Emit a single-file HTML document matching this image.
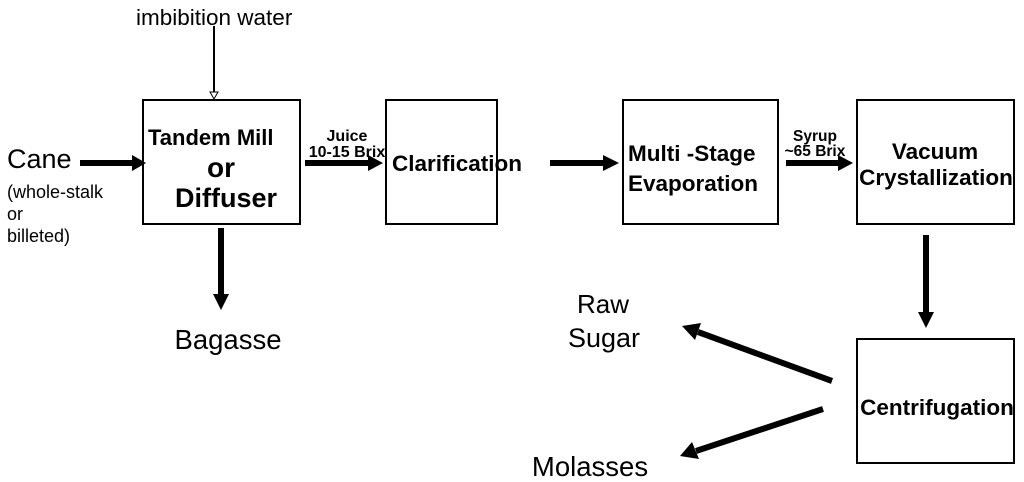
<!DOCTYPE html>
<html><head><style>body{margin:0;background:#fff}svg{display:block}text{font-family:"Liberation Sans",Arial,sans-serif}</style></head><body>
<svg width="1024" height="482" viewBox="0 0 1024 482" xmlns="http://www.w3.org/2000/svg">
<g fill="none" stroke="#000" stroke-width="2">
<rect x="143" y="100" width="157" height="124"/>
<rect x="386" y="100" width="111" height="124"/>
<rect x="623" y="100" width="155" height="124"/>
<rect x="857" y="100" width="157" height="124"/>
<rect x="857" y="339" width="157" height="124"/>
</g>
<line x1="214" y1="26" x2="214" y2="92" stroke="#000" stroke-width="2"/>
<polygon points="210,92 218,92 214,99" fill="#fff" stroke="#000" stroke-width="1"/>
<g stroke="#000" stroke-width="6">
<line x1="80" y1="163" x2="134" y2="163"/>
<line x1="305" y1="163" x2="370" y2="163"/>
<line x1="550" y1="163" x2="605" y2="163"/>
<line x1="786" y1="163" x2="840" y2="163"/>
<line x1="221" y1="228" x2="221" y2="296"/>
<line x1="926" y1="235" x2="926" y2="314"/>
<line x1="832" y1="381" x2="698" y2="332"/>
<line x1="823" y1="409" x2="696" y2="451"/>
</g>
<g fill="#000">
<polygon points="132,155 146,163 132,171"/>
<polygon points="368,155 383,163 368,171"/>
<polygon points="603,155 619,163 603,171"/>
<polygon points="838,155 853,163 838,171"/>
<polygon points="213,294 229,294 221,310"/>
<polygon points="918,312 934,312 926,328"/>
<polygon points="701,323 682,326 695,340"/>
<polygon points="692,442 680,456 699,459"/>
</g>
<text x="136" y="25" font-size="22.5">imbibition water</text>
<text x="7" y="168" font-size="27">Cane</text>
<text x="7" y="198" font-size="18">(whole-stalk</text>
<text x="7" y="220" font-size="18">or</text>
<text x="7" y="242" font-size="18">billeted)</text>
<g font-weight="bold">
<text x="148" y="145" font-size="22">Tandem Mill</text>
<text x="221" y="177" font-size="28" text-anchor="middle">or</text>
<text x="175" y="207" font-size="27">Diffuser</text>
<text x="347" y="141" font-size="16" text-anchor="middle">Juice</text>
<text x="347" y="157" font-size="16" text-anchor="middle">10-15 Brix</text>
<text x="392" y="171" font-size="22.5">Clarification</text>
<text x="628" y="161" font-size="22.5">Multi -Stage</text>
<text x="628" y="191" font-size="22.5">Evaporation</text>
<text x="815" y="141" font-size="15.5" text-anchor="middle">Syrup</text>
<text x="815" y="156" font-size="15.5" text-anchor="middle">~65 Brix</text>
<text x="935" y="159" font-size="22.5" text-anchor="middle">Vacuum</text>
<text x="936" y="185" font-size="22.5" text-anchor="middle">Crystallization</text>
<text x="937" y="415" font-size="22.5" text-anchor="middle">Centrifugation</text>
</g>
<text x="228" y="349" font-size="27.5" text-anchor="middle">Bagasse</text>
<text x="603" y="313" font-size="26" text-anchor="middle">Raw</text>
<text x="604" y="347" font-size="27" text-anchor="middle">Sugar</text>
<text x="590" y="476" font-size="27.5" text-anchor="middle">Molasses</text>
</svg>
</body></html>
